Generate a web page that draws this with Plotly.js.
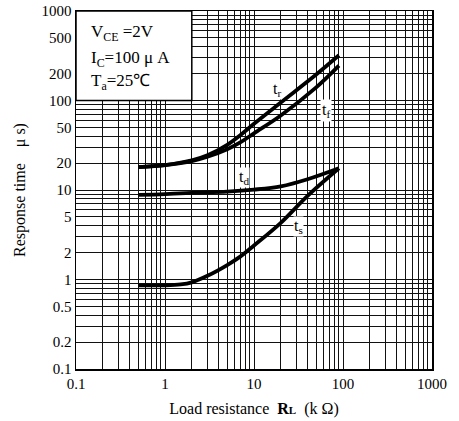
<!DOCTYPE html>
<html>
<head>
<meta charset="utf-8">
<script src="https://cdn.plot.ly/plotly-3.0.1.min.js"></script>
<style>html,body{margin:0;padding:0;background:#fff;}</style>
</head>
<body>
<div id="chart" style="width:459px;height:421px;"></div>
<script>
// Load resistance RL (kΩ)
const trX = [0.5, 1, 2, 3, 5, 7, 10, 20, 50, 90];
const trY = [18, 19, 21.5, 24.5, 32, 41, 55, 95, 195, 320];
const tfX = [0.5, 1, 2, 3, 5, 7, 10, 20, 50, 90];
const tfY = [18, 19, 21, 23.5, 28.5, 34, 43, 68, 140, 245];
const tdX = [0.5, 1, 2, 5, 10, 20, 40, 90];
const tdY = [8.8, 9.0, 9.3, 9.6, 10.1, 11, 13.2, 17.5];
const tsX = [0.5, 1, 1.5, 2, 3, 5, 7, 10, 20, 40, 90];
const tsY = [0.86, 0.86, 0.88, 0.93, 1.1, 1.45, 1.8, 2.4, 4.3, 8.6, 17.5];

const xTicks = [0.1, 1, 10, 100, 1000];
const xTickText = ['0.1', '1', '10', '100', '1000'];
const yTicks = [0.1, 0.2, 0.5, 1, 2, 5, 10, 20, 50, 100, 200, 500, 1000];
const yTickText = ['0.1', '0.2', '0.5', '1', '2', '5', '10', '20', '50', '100', '200', '500', '1000'];

const serif = '"Liberation Serif", "Times New Roman", serif';
const lineStyle = {color: '#000', width: 3.8, shape: 'spline', smoothing: 1};

const traces = [
  {x: trX, y: trY, mode: 'lines', line: lineStyle, name: 'tr', showlegend: false, hoverinfo: 'skip'},
  {x: tfX, y: tfY, mode: 'lines', line: lineStyle, name: 'tf', showlegend: false, hoverinfo: 'skip'},
  {x: tdX, y: tdY, mode: 'lines', line: lineStyle, name: 'td', showlegend: false, hoverinfo: 'skip'},
  {x: tsX, y: tsY, mode: 'lines', line: lineStyle, name: 'ts', showlegend: false, hoverinfo: 'skip'}
];

const axisCommon = {
  type: 'log',
  showgrid: true,
  gridcolor: '#111',
  gridwidth: 1,
  showline: true,
  linecolor: '#000',
  linewidth: 1.5,
  mirror: true,
  ticks: '',
  zeroline: false,
  tickfont: {family: serif, size: 15, color: '#000'},
  minor: {dtick: 'D1', showgrid: true, gridcolor: '#111', gridwidth: 1, ticks: ''}
};

const layout = {
  width: 459,
  height: 421,
  margin: {l: 76, r: 27, t: 11, b: 52},
  paper_bgcolor: '#fff',
  plot_bgcolor: '#fff',
  font: {family: serif, color: '#000'},
  showlegend: false,
  xaxis: Object.assign({}, axisCommon, {
    range: [-1, 3],
    tickmode: 'array',
    tickvals: xTicks,
    ticktext: xTickText,
    title: {text: 'Load resistance  <b>R<span style="font-size:11px">L</span></b>  (k Ω)', font: {family: serif, size: 16, color: '#000'}, standoff: 12}
  }),
  yaxis: Object.assign({}, axisCommon, {
    range: [-1, 3],
    tickmode: 'array',
    tickvals: yTicks,
    ticktext: yTickText,
    title: {text: 'Response time    μ s)', font: {family: serif, size: 16, color: '#000'}, standoff: 12}
  }),
  shapes: [
    {type: 'rect', xref: 'paper', yref: 'paper', x0: 0, x1: 0.3253, y0: 0.75, y1: 1,
     fillcolor: '#fff', line: {color: '#000', width: 1.5}, layer: 'above'}
  ],
  annotations: [
    {xref: 'paper', yref: 'paper', x: 0.0365, y: 0.9385, xanchor: 'left', yanchor: 'middle', showarrow: false,
     text: 'V<sub>CE</sub> =2V', font: {family: serif, size: 17, color: '#000'}},
    {xref: 'paper', yref: 'paper', x: 0.0365, y: 0.866, xanchor: 'left', yanchor: 'middle', showarrow: false,
     text: 'I<sub>C</sub>=100 μ A', font: {family: serif, size: 17, color: '#000'}},
    {xref: 'paper', yref: 'paper', x: 0.0365, y: 0.802, xanchor: 'left', yanchor: 'middle', showarrow: false,
     text: 'T<sub>a</sub>=25℃', font: {family: serif, size: 17, color: '#000'}},
    {xref: 'paper', yref: 'paper', x: 0.565, y: 0.81, showarrow: false, borderpad: 0,
     text: 't<sub>r</sub>', font: {family: serif, size: 16, color: '#000'}, bgcolor: '#fff'},
    {xref: 'paper', yref: 'paper', x: 0.718, y: 0.755, showarrow: false, borderpad: 1,
     text: 't<sub>f</sub>', font: {family: serif, size: 16, color: '#000'}, bgcolor: '#fff'},
    {xref: 'paper', yref: 'paper', x: 0.472, y: 0.535, showarrow: false, borderpad: 0,
     text: 't<sub>d</sub>', font: {family: serif, size: 16, color: '#000'}, bgcolor: '#fff'},
    {xref: 'paper', yref: 'paper', x: 0.625, y: 0.397, showarrow: false, borderpad: 0,
     text: 't<sub>s</sub>', font: {family: serif, size: 16, color: '#000'}, bgcolor: '#fff'}
  ]
};

Plotly.newPlot('chart', traces, layout, {displayModeBar: false, staticPlot: true});
</script>
</body>
</html>
